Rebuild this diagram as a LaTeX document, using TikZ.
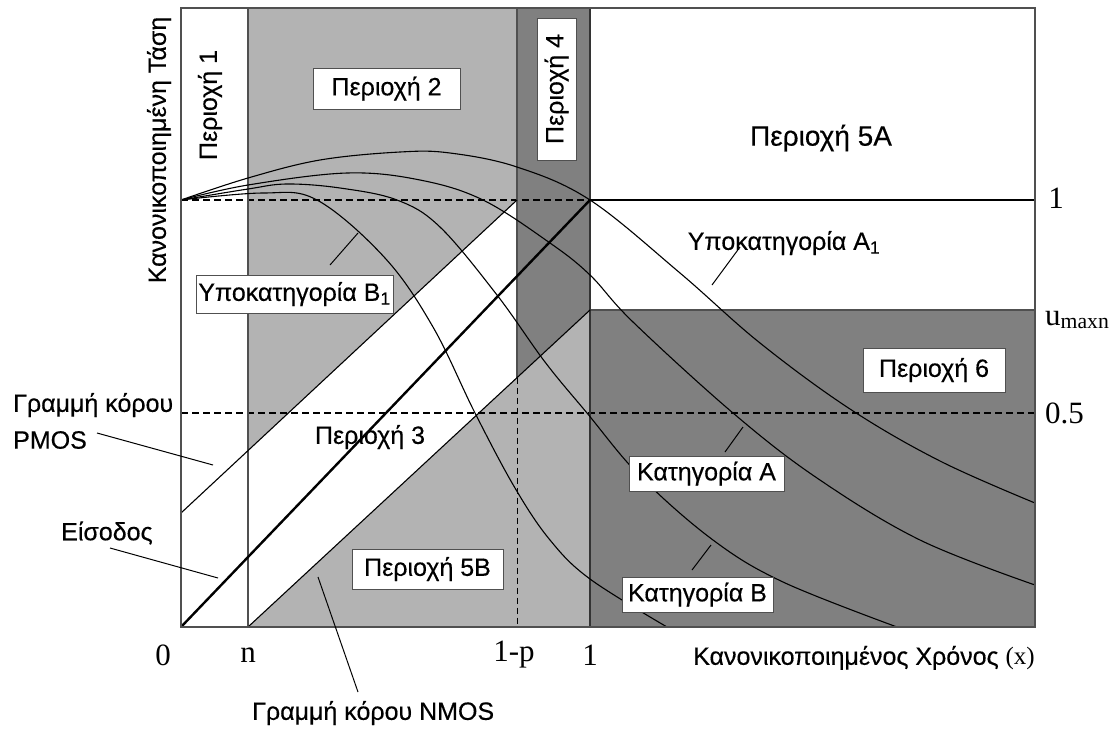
\documentclass[tikz,border=0pt]{standalone}
\usepackage{fontspec}
\setmainfont{Liberation Sans}[FakeBold=0.35]
\newfontfamily\seriffont{Liberation Serif}
\definecolor{lgray}{HTML}{B3B3B3}
\definecolor{dgray}{HTML}{808080}
\definecolor{edge}{HTML}{505050}
\begin{document}
\begin{tikzpicture}[x=1pt,y=-1pt,
  lbl/.style={font=\fontsize{25}{30}\selectfont, inner sep=0pt},
  boxed/.style={lbl, fill=white, draw=edge, line width=1pt},
  num/.style={font=\seriffont\fontsize{31}{34}\selectfont, inner sep=0pt},
  curve/.style={line width=1.1pt, black},
  ptr/.style={line width=1pt, black},
  edgeline/.style={line width=1.4pt, edge},
  dashline/.style={line width=1.2pt, black, dash pattern=on 7pt off 4pt}
]
\useasboundingbox (0,0) rectangle (1112,729);
\fill[white] (0,0) rectangle (1112,729);
% ---- fills
\fill[lgray] (248,8) -- (517,8) -- (517,200) -- (248,450.6) -- cycle;
\fill[dgray] (517,8) -- (590,8) -- (590,310) -- (517,377.7) -- cycle;
\fill[lgray] (248,627) -- (590,310) -- (590,627) -- cycle;
\fill[dgray] (590,310) rectangle (1035,627);
% ---- dashed reference lines
\draw[dashline, line width=1.7pt] (181,200) -- (590,200);
\draw[dashline] (181,413) -- (1035,413);
\draw[line width=1pt, dash pattern=on 6pt off 4pt] (517,377.7) -- (517,627);
% ---- outlines
\draw[edgeline] (517,8) -- (517,377.7);
\draw[edgeline] (590,310) -- (1035,310);
\draw[edgeline] (248,8) -- (248,627);
\draw[line width=1.4pt, black!80] (590,8) -- (590,627);
\draw[line width=1.6pt, black] (590,200) -- (1035,200);
% ---- saturation lines and input
\coordinate (p0) at (181,513); \coordinate (p1) at (517,200);
\coordinate (n0) at (248,627); \coordinate (n1) at (590,310);
\coordinate (i0) at (181,627); \coordinate (i1) at (590,200);
\draw[line width=1.1pt] (p0) -- (p1);
\draw[line width=1.1pt] (n0) -- (n1);
\draw[line width=2.4pt] (i0) -- (i1);
% ---- curves
\draw[curve] plot[smooth, tension=0.6] coordinates {(181,200) (248,178) (320,160) (400,152) (450,153) (517,167) (590,200) (680,273) (760,343) (850,409) (940,461) (1035,503)};
\draw[curve] plot[smooth, tension=0.6] coordinates {(181,200) (248,185) (347,173) (420,180) (483,200) (550,243) (590,275) (633,322) (733,413) (817,478) (920,540) (1035,585)};
\draw[curve] plot[smooth, tension=0.6] coordinates {(181,200) (248,189) (287,184) (340,188) (397,200) (440,227) (497,295) (545,362) (587,413) (640,476) (713,540) (783,582) (897,627)};
\draw[curve] plot[smooth, tension=0.6] coordinates {(181,200) (263,193) (317,200) (385,258) (433,327) (475,413) (515,488) (550,540) (590,579) (667,627)};
% ---- frame
\draw[edgeline] (181,8) rectangle (1035,627);
% ---- labels
\node[boxed, minimum width=147pt, minimum height=41pt] (r2) at (386.5,88.5) {Περιοχή 2};
\node[boxed, minimum width=142pt, minimum height=39pt, rotate=90] (r4) at (556.5,89) {Περιοχή 4};
\node[lbl, rotate=90] (r1) at (210,105) {Περιοχή 1};
\node[lbl, font=\fontsize{28}{32}\selectfont] (r5a) at (821,138) {Περιοχή 5A};
\node[lbl] (sa1) at (784,243) {Υποκατηγορία A\textsubscript{1}};
\node[boxed, minimum width=197pt, minimum height=38pt] (sb1) at (294.5,294) {Υποκατηγορία B\textsubscript{1}};
\node[boxed, minimum width=142pt, minimum height=44pt] (r6) at (934,370) {Περιοχή 6};
\node[lbl] (r3) at (370,437) {Περιοχή 3};
\node[boxed, minimum width=155pt, minimum height=35pt] (ka) at (706.5,473.5) {Κατηγορία A};
\node[boxed, minimum width=151pt, minimum height=35pt] (kb) at (697.5,594.5) {Κατηγορία B};
\node[boxed, minimum width=151pt, minimum height=40pt] (r5b) at (427.5,569) {Περιοχή 5B};
\node[lbl, anchor=west] (pm1) at (13,405) {Γραμμή κόρου};
\node[lbl, anchor=west] (pm2) at (13,440) {PMOS};
\node[lbl, anchor=west] (eis) at (61,533) {Είσοδος};
\node[lbl, anchor=west] (nm) at (252,713) {Γραμμή κόρου NMOS};
\node[lbl, rotate=90] (ylab) at (159,150) {Κανονικοποιημένη Τάση};
\node[lbl, anchor=west] (xlab) at (693,658) {Κανονικοποιημένος Χρόνος {\seriffont(x)}};
\node[num] (t0) at (163,655) {0};
\node[num] (tn) at (248,655) {n};
\node[num] (t1p) at (514,655) {1-p};
\node[num] (t1) at (590,655) {1};
\node[num] (v1) at (1056,198) {1};
\node[num, anchor=west] (vu) at (1045,320) {u\textsubscript{maxn}};
\node[num, anchor=west] (v05) at (1045,413) {0.5};
% ---- pointer lines
\coordinate (b1a) at (330,265); \coordinate (b1b) at (358,233);
\coordinate (a1a) at (712,285); \coordinate (a1b) at (740,247);
\coordinate (kaa) at (725,452); \coordinate (kab) at (743,427);
\coordinate (kba) at (692,570); \coordinate (kbb) at (711,545);
\coordinate (pma) at (97,433); \coordinate (pmb) at (213,465);
\coordinate (eia) at (110,548); \coordinate (eib) at (218,578);
\coordinate (nma) at (358,692); \coordinate (nmb) at (318,577);
\draw[ptr] (b1a) -- (b1b);
\draw[ptr] (a1a) -- (a1b);
\draw[ptr] (kaa) -- (kab);
\draw[ptr] (kba) -- (kbb);
\draw[ptr] (pma) -- (pmb);
\draw[ptr] (eia) -- (eib);
\draw[ptr] (nma) -- (nmb);
\end{tikzpicture}
\end{document}
